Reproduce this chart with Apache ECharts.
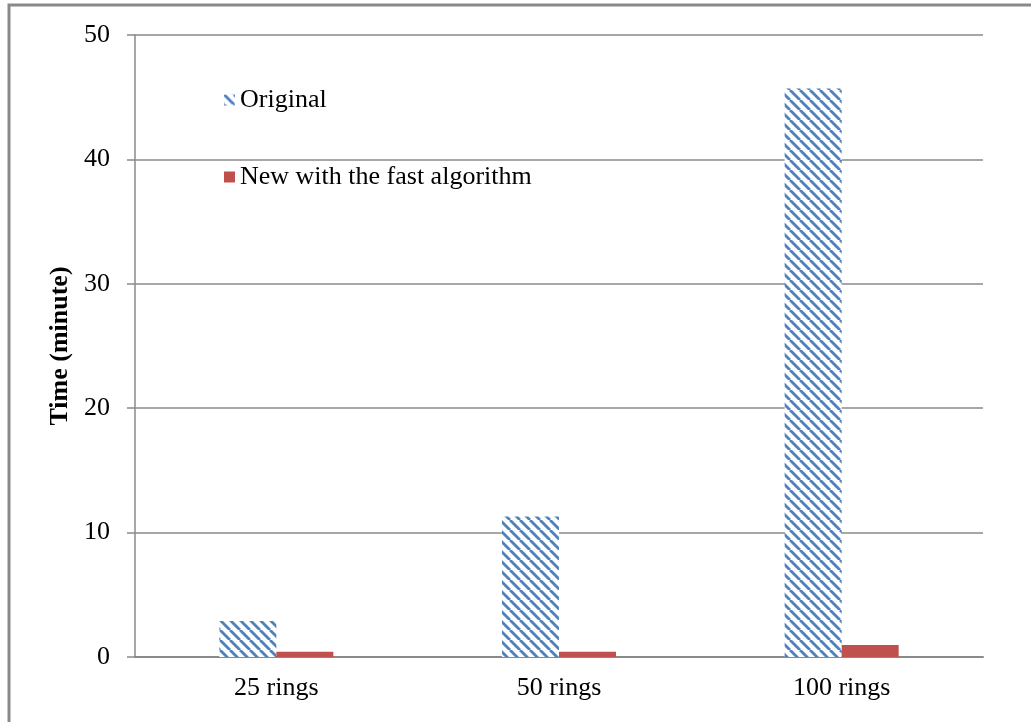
<!DOCTYPE html>
<html>
<head>
<meta charset="utf-8">
<script src="https://cdn.jsdelivr.net/npm/echarts@6/dist/echarts.min.js"></script>
<style>
  html, body { margin: 0; padding: 0; background: #fff; }
  #chart { width: 1031px; height: 722px; }
</style>
</head>
<body>
<div id="chart"></div>
<script>
// Run times per model size
const categories = ['25 rings', '50 rings', '100 rings'];
const originalTimes = [2.9, 11.3, 45.7];
const fastTimes = [0.43, 0.43, 0.96];
const yTicks = { min: 0, max: 50, interval: 10 };

// Diagonal hatch fill for the original series
function hatchPattern() {
  const c = document.createElement('canvas');
  c.width = 10; c.height = 10;
  const ctx = c.getContext('2d');
  ctx.fillStyle = '#ffffff';
  ctx.fillRect(0, 0, 10, 10);
  ctx.strokeStyle = '#4F81BD';
  ctx.lineWidth = 2.8;
  for (let k = -20; k <= 20; k += 10) {
    ctx.beginPath();
    ctx.moveTo(k, 0);
    ctx.lineTo(k + 10, 10);
    ctx.stroke();
  }
  return c;
}

const font = '"Liberation Serif", "Times New Roman", serif';
const chart = echarts.init(document.getElementById('chart'), null, { renderer: 'canvas' });

chart.setOption({
  backgroundColor: '#ffffff',
  animation: false,
  textStyle: { fontFamily: font },
  graphic: [{
    type: 'rect',
    shape: { x: 9, y: 5, width: 1040, height: 740 },
    style: { fill: 'none', stroke: '#898989', lineWidth: 3 },
    silent: true
  }],
  grid: { left: 135, right: 48, top: 35, bottom: 65, containLabel: false },
  legend: {
    orient: 'vertical',
    left: 219,
    top: 82,
    itemGap: 51,
    itemWidth: 11,
    itemHeight: 11,
    icon: 'rect',
    textStyle: { fontFamily: font, fontSize: 26, lineHeight: 26, color: '#000' },
    data: ['Original', 'New with the fast algorithm']
  },
  xAxis: {
    type: 'category',
    data: categories,
    axisLine: { lineStyle: { color: '#8a8a8a', width: 2 } },
    axisTick: { show: false },
    axisLabel: { fontFamily: font, fontSize: 26, color: '#000', margin: 18 }
  },
  yAxis: {
    type: 'value',
    min: yTicks.min,
    max: yTicks.max,
    interval: yTicks.interval,
    name: 'Time (minute)',
    nameLocation: 'middle',
    nameGap: 61,
    nameTextStyle: { fontFamily: font, fontSize: 26, fontWeight: 'bold', color: '#000' },
    axisLine: { show: true, lineStyle: { color: '#8a8a8a', width: 1.5 } },
    axisTick: { show: true, length: 8, lineStyle: { color: '#8a8a8a', width: 1.5 } },
    axisLabel: { fontFamily: font, fontSize: 26, color: '#000', margin: 25 },
    splitLine: { lineStyle: { color: '#8a8a8a', width: 1.5 } }
  },
  series: [
    {
      name: 'Original',
      type: 'bar',
      data: originalTimes,
      barWidth: 57,
      barGap: '0%',
      itemStyle: { color: { image: hatchPattern(), repeat: 'repeat' } }
    },
    {
      name: 'New with the fast algorithm',
      type: 'bar',
      data: fastTimes,
      barWidth: 57,
      itemStyle: { color: '#C0504D' }
    }
  ]
});
</script>
</body>
</html>
